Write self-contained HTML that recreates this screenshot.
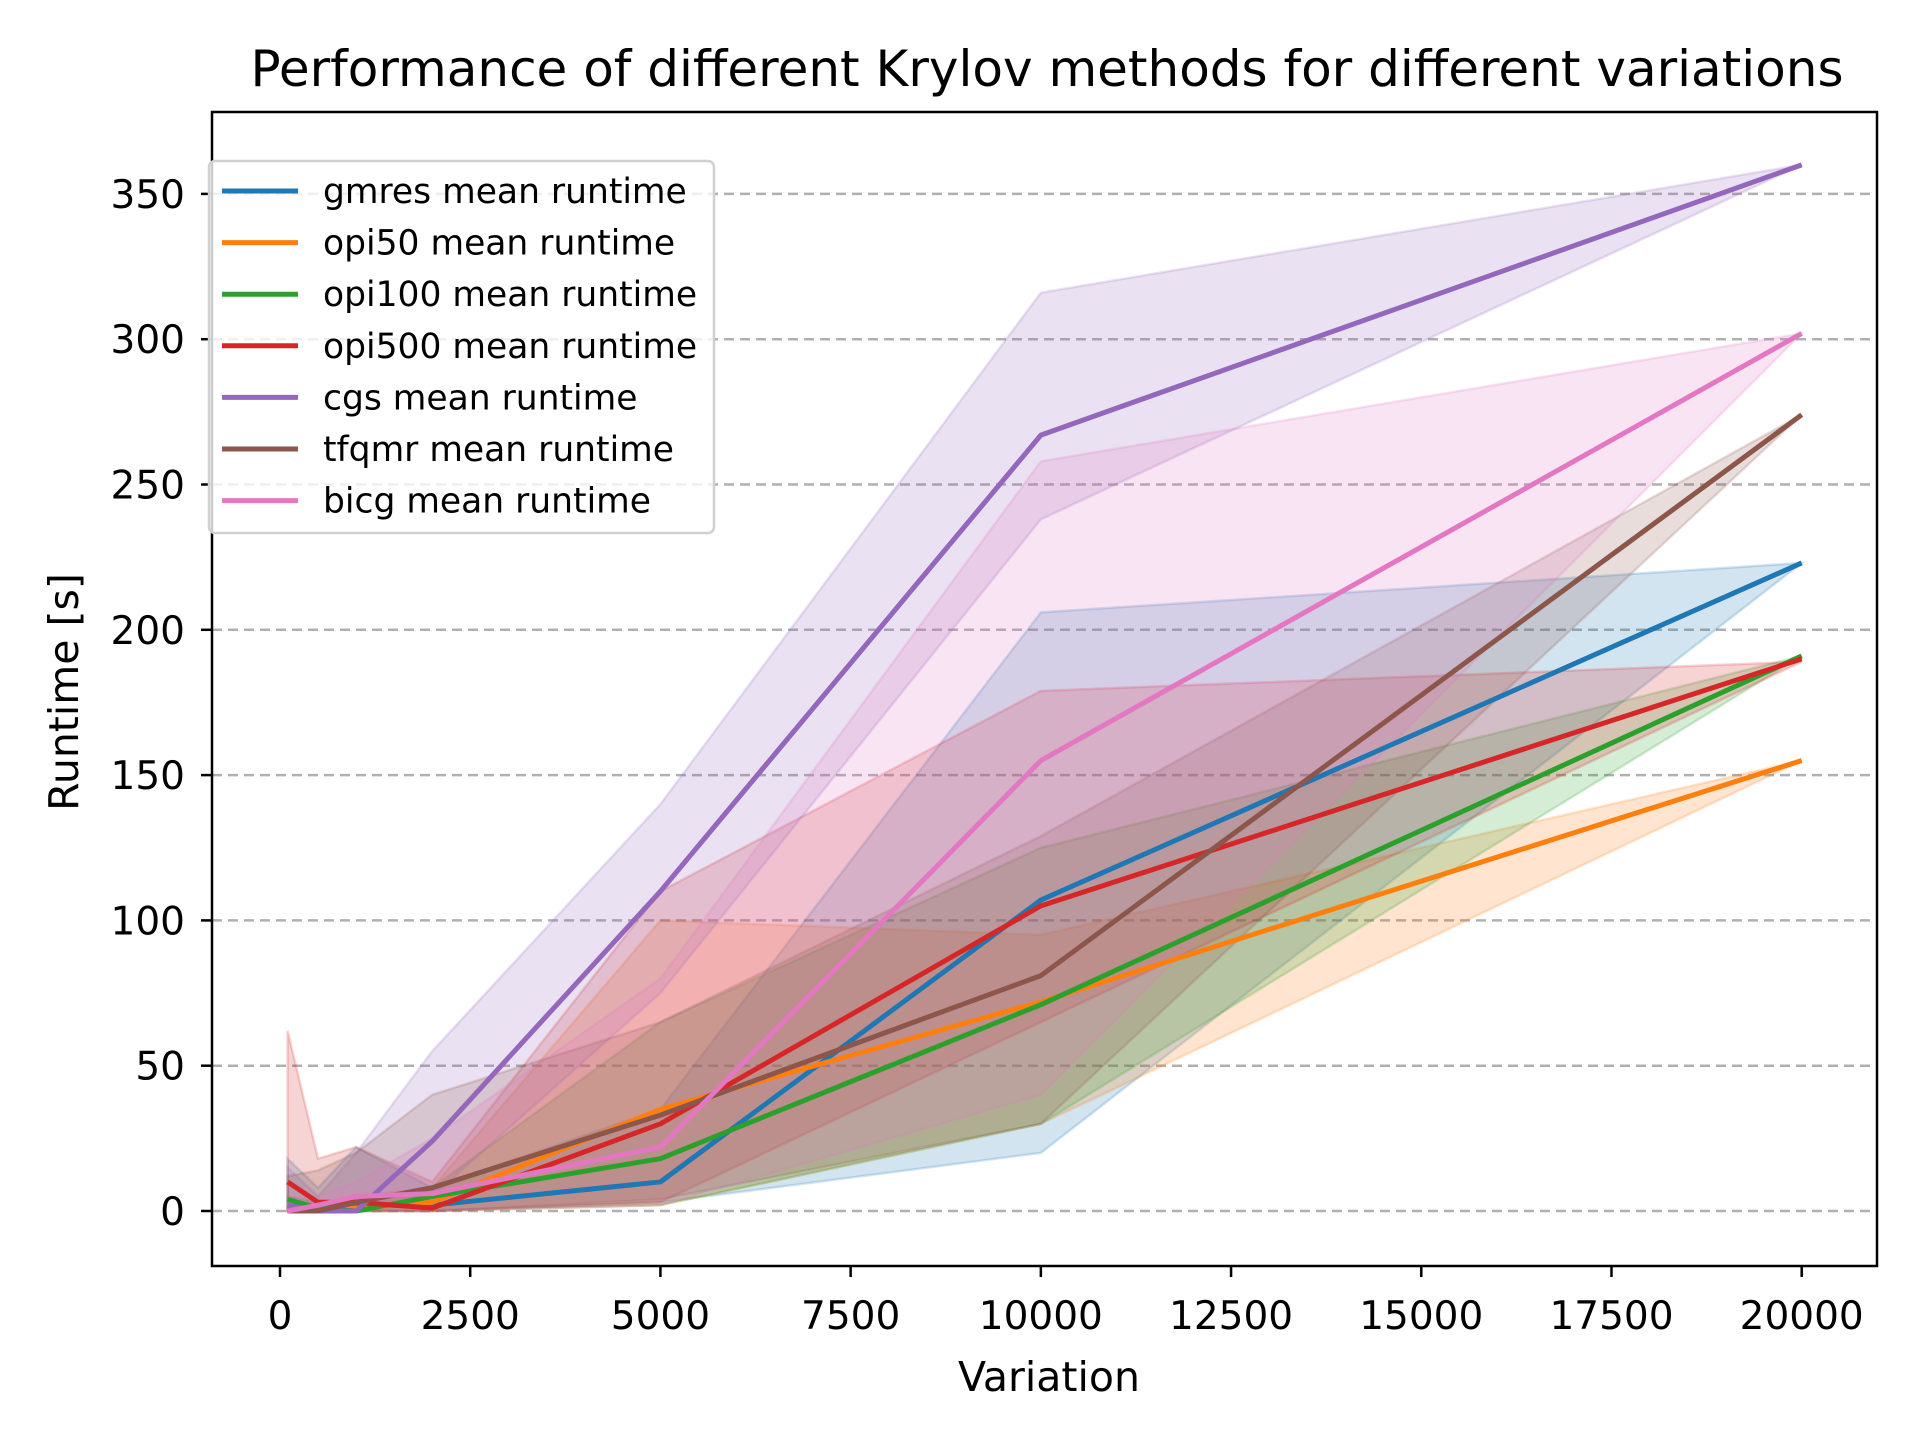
<!DOCTYPE html>
<html><head><meta charset="utf-8"><style>
html,body{margin:0;padding:0;background:#fff;}
svg{display:block;font-family:"DejaVu Sans","Liberation Sans",sans-serif;}
</style></head><body>
<svg id="chart" width="1920" height="1440" viewBox="0 0 1920 1440" xmlns="http://www.w3.org/2000/svg">
<rect x="0" y="0" width="1920" height="1440" fill="#fff"/>
<g id="grid"></g>
<g id="bands"></g>
<g id="lines"></g>
<g id="axes"></g>
<g id="legend"></g>
<text x="1047" y="86" text-anchor="middle" font-size="50" fill="#000">Performance of different Krylov methods for different variations</text>
<text x="1049" y="1391" text-anchor="middle" font-size="41" fill="#000">Variation</text>
<text transform="translate(78,692) rotate(-90)" text-anchor="middle" font-size="41" fill="#000">Runtime [s]</text>
</svg>
<script>
const xs = [100, 500, 1000, 2000, 5000, 10000, 20000];
const seriesNames = ["gmres","opi50","opi100","opi500","cgs","tfqmr","bicg"];
const colors = ["#1f77b4","#ff7f0e","#2ca02c","#d62728","#9467bd","#8c564b","#e377c2"];
const gmresMean = [1, 1, 2, 2, 10, 107, 223];
const opi50Mean = [0, 0, 1, 3, 35, 72, 155];
const opi100Mean = [4, 1, 0, 5, 18, 71, 191];
const opi500Mean = [10, 3, 3, 1, 30, 105, 190];
const cgsMean = [2, 0, 0, 24, 110, 267, 360];
const tfqmrMean = [0, 0, 3, 8, 33, 81, 274];
const bicgMean = [0, 2, 5, 6, 22, 155, 302];
const gmresUpper = [18, 8, 22, 8, 35, 206, 223];
const gmresLower = [0, 0, 0, 0, 3, 20, 223];
const opi50Upper = [2, 2, 5, 8, 100, 95, 155];
const opi50Lower = [0, 0, 0, 0, 2, 30, 155];
const opi100Upper = [5, 3, 4, 8, 65, 125, 191];
const opi100Lower = [0, 0, 0, 0, 2, 30, 191];
const opi500Upper = [62, 18, 22, 10, 110, 179, 189];
const opi500Lower = [0, 0, 0, 0, 3, 65, 189];
const cgsUpper = [15, 5, 20, 55, 140, 316, 360];
const cgsLower = [0, 0, 0, 5, 75, 238, 360];
const tfqmrUpper = [12, 14, 20, 40, 65, 129, 274];
const tfqmrLower = [0, 0, 0, 0, 4, 30, 274];
const bicgUpper = [5, 5, 10, 25, 80, 258, 302];
const bicgLower = [0, 0, 0, 0, 2, 40, 302];
const xTicks = [0, 2500, 5000, 7500, 10000, 12500, 15000, 17500, 20000];
const yTicks = [0, 50, 100, 150, 200, 250, 300, 350];

const means = [gmresMean, opi50Mean, opi100Mean, opi500Mean, cgsMean, tfqmrMean, bicgMean];
const uppers = [gmresUpper, opi50Upper, opi100Upper, opi500Upper, cgsUpper, tfqmrUpper, bicgUpper];
const lowers = [gmresLower, opi50Lower, opi100Lower, opi500Lower, cgsLower, tfqmrLower, bicgLower];

const AX = {l:212, r:1877, t:112, b:1266};
function xScale(v){ return 280 + (v/20000)*(1801.7-280); }
function yScale(v){ return 1211 - (v/50)*145.3; }
const NS = "http://www.w3.org/2000/svg";
function mk(tag, attrs, parent){ const e=document.createElementNS(NS,tag); for(const k in attrs) e.setAttribute(k,attrs[k]); parent.appendChild(e); return e; }

const grid=document.getElementById('grid');
yTicks.forEach(t=>{
  const l=mk('line',{x1:AX.l,x2:AX.r,y1:yScale(t),y2:yScale(t),stroke:'#b0b0b0','stroke-width':2.5,'stroke-dasharray':'10,6'},grid);
  
  
});

const bands=document.getElementById('bands');
for(let s=0;s<seriesNames.length;s++){
  let pts=xs.map((x,i)=>xScale(x)+','+yScale(uppers[s][i]));
  for(let i=xs.length-1;i>=0;i--) pts.push(xScale(xs[i])+','+yScale(lowers[s][i]));
  const p=mk('polygon',{points:pts.join(' '),fill:colors[s],'fill-opacity':0.2,stroke:colors[s],'stroke-opacity':0.2,'stroke-width':2.5},bands);
  
  
}
const lines=document.getElementById('lines');
for(let s=0;s<seriesNames.length;s++){
  const pts=xs.map((x,i)=>xScale(x)+','+yScale(means[s][i])).join(' ');
  const p=mk('polyline',{points:pts,fill:'none',stroke:colors[s],'stroke-width':5,'stroke-linejoin':'round'},lines);
  
  
}

const axes=document.getElementById('axes');
const frame=mk('rect',{x:AX.l,y:AX.t,width:AX.r-AX.l,height:AX.b-AX.t,fill:'none',stroke:'#000','stroke-width':2.5},axes);


xTicks.forEach(t=>{
  const x=xScale(t);
  mk('line',{x1:x,x2:x,y1:AX.b,y2:AX.b+11,stroke:'#000','stroke-width':2.5},axes);
  const tx=mk('text',{x:x,y:AX.b+63,'text-anchor':'middle','font-size':39,fill:'#000'},axes);
  tx.textContent=t;
  
  
});
yTicks.forEach(t=>{
  const y=yScale(t);
  mk('line',{x1:AX.l-11,x2:AX.l,y1:y,y2:y,stroke:'#000','stroke-width':2.5},axes);
  const tx=mk('text',{x:AX.l-27,y:y+14,'text-anchor':'end','font-size':39,fill:'#000'},axes);
  tx.textContent=t;
  
  
});

const legend=document.getElementById('legend');
const box=mk('rect',{x:209,y:161,width:505,height:372,rx:6,fill:'#fff','fill-opacity':0.8,stroke:'#d0d0d0','stroke-width':2.5},legend);


for(let s=0;s<seriesNames.length;s++){
  const y=191+s*51.6;
  mk('line',{x1:222,x2:298,y1:y,y2:y,stroke:colors[s],'stroke-width':5},legend);
  const tx=mk('text',{x:323,y:y+12,'font-size':34.5,fill:'#000'},legend);
  tx.textContent=seriesNames[s]+' mean runtime';
  
  
}
</script>
</body></html>
